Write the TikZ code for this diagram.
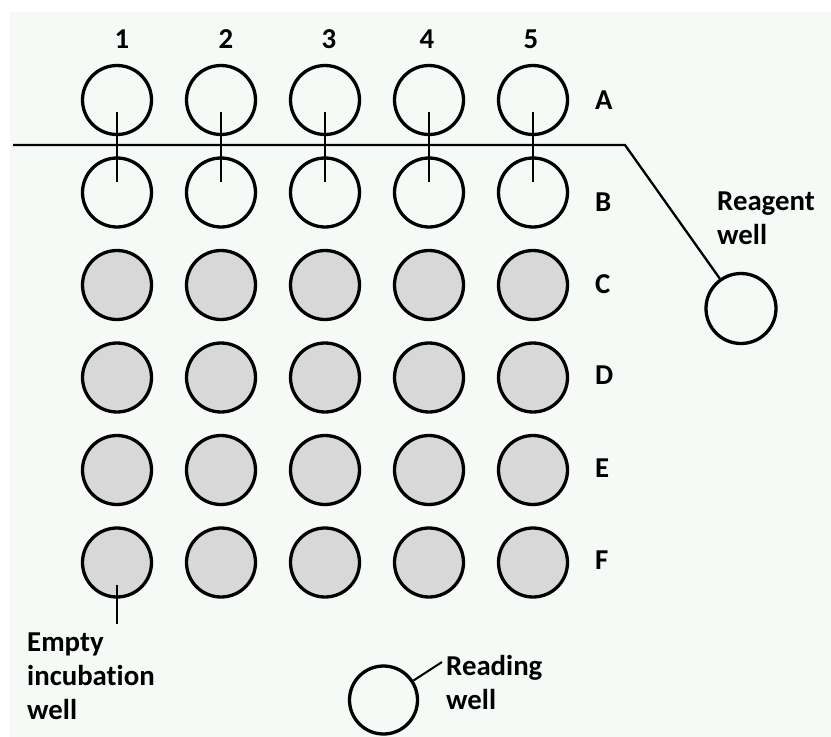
\documentclass[tikz,border=0pt]{standalone}
\usepackage{fontspec}
\setmainfont{Carlito}[Ligatures=NoCommon]
\usetikzlibrary{calc}
\definecolor{panel}{RGB}{245,250,247}
\definecolor{wellgrey}{RGB}{216,216,216}
\begin{document}
\begin{tikzpicture}[x=1pt,y=-1pt,
  every node/.style={font=\fontsize{28.8}{34}\selectfont\bfseries, inner sep=0pt},
  well/.style={circle, draw, line width=3.3pt, minimum size=69pt, fill=panel},
  filledwell/.style={well, fill=wellgrey},
  guide/.style={line width=2.5pt},
  lbl/.style={align=left, anchor=base west}]
\useasboundingbox (0,0) rectangle (831,737);
\fill[white] (0,0) rectangle (831,737);
\fill[panel] (10,12) rectangle (831,737);

% plate of wells: rows A-B open, rows C-F filled
\foreach \c/\x in {1/117,2/221,3/325,4/429,5/533}{
  \node[well] (A\c) at (\x,100) {};
  \node[well] (B\c) at (\x,192.5) {};
  \foreach \r/\y in {C/285,D/377.5,E/470,F/562.5}
    \node[filledwell] (\r\c) at (\x,\y) {};
}

% column numbers and row letters
\foreach \c/\x in {1/122,2/226,3/329,4/427,5/531}
  \node (col\c) at (\x,39) {\c};
\foreach \r/\y in {A/100,B/202,C/284,D/375,E/468,F/560}
  \node[anchor=west] (row\r) at (595,\y) {\r};

% tips reaching from row A into row B
\foreach \c in {1,...,5}
  \draw[guide] ([yshift=-12pt]A\c.center) -- ([yshift=10.5pt]B\c.center);

% reagent strip feeding the reagent well
\node[well, minimum size=70pt] (reagent) at (741,308.5) {};
\coordinate (lineStart) at (13,145);
\coordinate (bend) at (625,145);
\draw[line width=2.3pt] (lineStart) -- (bend) -- (reagent);
\node[lbl] (reagentLbl) at (717,244) {Reagent\\well};

% empty incubation well pointer
\coordinate (emptyTip) at (117,624);
\draw[guide] ([yshift=-22.5pt]F1.center) -- (emptyTip);
\node[lbl] (emptyLbl) at (27,719) {Empty\\incubation\\well};

% reading well
\node[well, minimum size=68pt] (reading) at (383.5,700) {};
\coordinate (readTip) at (442,662);
\draw[line width=2pt] (reading) -- (readTip);
\node[lbl] (readingLbl) at (446,709) {Reading\\well};
\end{tikzpicture}
\end{document}
